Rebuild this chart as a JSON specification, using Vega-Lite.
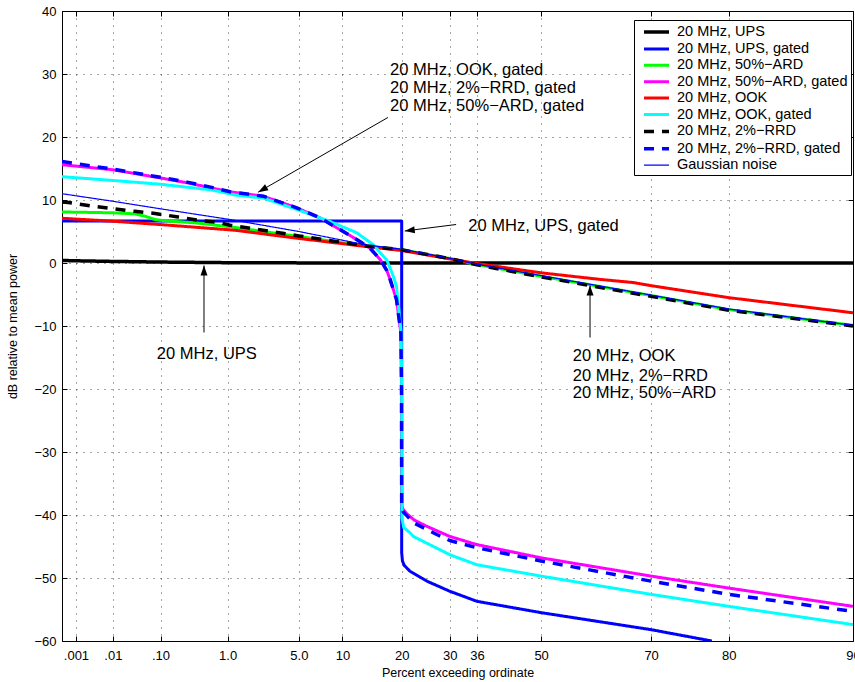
{
  "$schema": "https://vega.github.io/schema/vega-lite/v6.json",
  "width": 791,
  "height": 630,
  "autosize": {"type": "none"},
  "padding": {"left": 62, "top": 11, "right": 2, "bottom": 41},
  "background": "white",
  "config": {
    "font": "Liberation Sans",
    "view": {"stroke": "black", "strokeWidth": 1},
    "axis": {
      "labelFont": "Liberation Sans",
      "titleFont": "Liberation Sans",
      "labelColor": "black",
      "titleColor": "black",
      "titleFontWeight": "normal",
      "labelFontSize": 13,
      "titleFontSize": 12.5,
      "domain": false,
      "tickColor": "black",
      "tickSize": -5,
      "gridColor": "black",
      "gridDash": [1, 6],
      "gridOpacity": 0.7,
      "gridWidth": 1
    },
    "legend": {
      "orient": "none",
      "legendX": 572,
      "legendY": 9,
      "symbolType": "M-1.786,0L1.786,0",
      "symbolSize": 196,
      "labelFontSize": 14.5,
      "labelFont": "Liberation Sans",
      "labelColor": "black",
      "strokeColor": "black",
      "fillColor": "white",
      "padding": 3,
      "rowPadding": 1.4,
      "labelOffset": 11.5,
      "symbolOffset": 10.5,
      "labelLimit": 300
    }
  },
  "datasets": {
    "curves": [
      {"s": "20 MHz, UPS", "p": 0.000363, "db": 0.4},
      {"s": "20 MHz, UPS", "p": 0.001, "db": 0.35},
      {"s": "20 MHz, UPS", "p": 0.01, "db": 0.25},
      {"s": "20 MHz, UPS", "p": 0.1, "db": 0.15},
      {"s": "20 MHz, UPS", "p": 1, "db": 0.05},
      {"s": "20 MHz, UPS", "p": 10, "db": 0.0},
      {"s": "20 MHz, UPS", "p": 90, "db": 0.0},

      {"s": "20 MHz, UPS, gated", "p": 0.000363, "db": 6.65},
      {"s": "20 MHz, UPS, gated", "p": 20, "db": 6.65},
      {"s": "20 MHz, UPS, gated", "p": 20, "db": -46.0},
      {"s": "20 MHz, UPS, gated", "p": 20.15, "db": -47.3},
      {"s": "20 MHz, UPS, gated", "p": 20.5, "db": -48.0},
      {"s": "20 MHz, UPS, gated", "p": 21.6, "db": -48.9},
      {"s": "20 MHz, UPS, gated", "p": 25.1, "db": -50.5},
      {"s": "20 MHz, UPS, gated", "p": 30, "db": -52.1},
      {"s": "20 MHz, UPS, gated", "p": 36, "db": -53.7},
      {"s": "20 MHz, UPS, gated", "p": 50, "db": -55.5},
      {"s": "20 MHz, UPS, gated", "p": 70, "db": -58.2},
      {"s": "20 MHz, UPS, gated", "p": 78.1, "db": -60.0},

      {"s": "20 MHz, 50%−ARD", "p": 0.000363, "db": 8.1},
      {"s": "20 MHz, 50%−ARD", "p": 0.01, "db": 7.97},
      {"s": "20 MHz, 50%−ARD", "p": 0.0316, "db": 7.8},
      {"s": "20 MHz, 50%−ARD", "p": 0.0505, "db": 7.43},
      {"s": "20 MHz, 50%−ARD", "p": 0.079, "db": 6.9},
      {"s": "20 MHz, 50%−ARD", "p": 0.12, "db": 6.7},
      {"s": "20 MHz, 50%−ARD", "p": 0.366, "db": 6.38},
      {"s": "20 MHz, 50%−ARD", "p": 1.07, "db": 5.75},
      {"s": "20 MHz, 50%−ARD", "p": 5, "db": 4.2},
      {"s": "20 MHz, 50%−ARD", "p": 13.7, "db": 2.67},
      {"s": "20 MHz, 50%−ARD", "p": 20, "db": 2.1},
      {"s": "20 MHz, 50%−ARD", "p": 30, "db": 0.71},
      {"s": "20 MHz, 50%−ARD", "p": 36, "db": -0.24},
      {"s": "20 MHz, 50%−ARD", "p": 50, "db": -2.1},
      {"s": "20 MHz, 50%−ARD", "p": 70, "db": -5.16},
      {"s": "20 MHz, 50%−ARD", "p": 80, "db": -7.4},
      {"s": "20 MHz, 50%−ARD", "p": 90, "db": -9.9},

      {"s": "20 MHz, 50%−ARD, gated", "p": 0.000363, "db": 15.6},
      {"s": "20 MHz, 50%−ARD, gated", "p": 0.01, "db": 14.8},
      {"s": "20 MHz, 50%−ARD, gated", "p": 0.1, "db": 13.5},
      {"s": "20 MHz, 50%−ARD, gated", "p": 0.29, "db": 12.7},
      {"s": "20 MHz, 50%−ARD, gated", "p": 0.627, "db": 11.9},
      {"s": "20 MHz, 50%−ARD, gated", "p": 1.07, "db": 11.3},
      {"s": "20 MHz, 50%−ARD, gated", "p": 2.44, "db": 10.6},
      {"s": "20 MHz, 50%−ARD, gated", "p": 4.81, "db": 8.76},
      {"s": "20 MHz, 50%−ARD, gated", "p": 7.16, "db": 7.17},
      {"s": "20 MHz, 50%−ARD, gated", "p": 9.66, "db": 5.3},
      {"s": "20 MHz, 50%−ARD, gated", "p": 12.1, "db": 3.73},
      {"s": "20 MHz, 50%−ARD, gated", "p": 14.2, "db": 2.4},
      {"s": "20 MHz, 50%−ARD, gated", "p": 16.0, "db": 0.56},
      {"s": "20 MHz, 50%−ARD, gated", "p": 17.2, "db": -1.2},
      {"s": "20 MHz, 50%−ARD, gated", "p": 17.8, "db": -2.6},
      {"s": "20 MHz, 50%−ARD, gated", "p": 19.0, "db": -5.8},
      {"s": "20 MHz, 50%−ARD, gated", "p": 19.85, "db": -11.1},
      {"s": "20 MHz, 50%−ARD, gated", "p": 19.97, "db": -20},
      {"s": "20 MHz, 50%−ARD, gated", "p": 20.0, "db": -38.5},
      {"s": "20 MHz, 50%−ARD, gated", "p": 20.2, "db": -39.0},
      {"s": "20 MHz, 50%−ARD, gated", "p": 21.0, "db": -39.8},
      {"s": "20 MHz, 50%−ARD, gated", "p": 22.5, "db": -40.8},
      {"s": "20 MHz, 50%−ARD, gated", "p": 25.1, "db": -41.8},
      {"s": "20 MHz, 50%−ARD, gated", "p": 30, "db": -43.4},
      {"s": "20 MHz, 50%−ARD, gated", "p": 36, "db": -44.7},
      {"s": "20 MHz, 50%−ARD, gated", "p": 50, "db": -46.8},
      {"s": "20 MHz, 50%−ARD, gated", "p": 70, "db": -49.7},
      {"s": "20 MHz, 50%−ARD, gated", "p": 80, "db": -51.6},
      {"s": "20 MHz, 50%−ARD, gated", "p": 90, "db": -54.5},

      {"s": "20 MHz, OOK", "p": 0.000363, "db": 7.1},
      {"s": "20 MHz, OOK", "p": 0.01, "db": 6.63},
      {"s": "20 MHz, OOK", "p": 0.1, "db": 6.1},
      {"s": "20 MHz, OOK", "p": 1.22, "db": 5.2},
      {"s": "20 MHz, OOK", "p": 5, "db": 3.9},
      {"s": "20 MHz, OOK", "p": 13.7, "db": 2.6},
      {"s": "20 MHz, OOK", "p": 20, "db": 1.98},
      {"s": "20 MHz, OOK", "p": 30, "db": 0.66},
      {"s": "20 MHz, OOK", "p": 36, "db": -0.08},
      {"s": "20 MHz, OOK", "p": 50, "db": -1.56},
      {"s": "20 MHz, OOK", "p": 61.5, "db": -2.6},
      {"s": "20 MHz, OOK", "p": 67.2, "db": -3.1},
      {"s": "20 MHz, OOK", "p": 70, "db": -3.6},
      {"s": "20 MHz, OOK", "p": 80, "db": -5.5},
      {"s": "20 MHz, OOK", "p": 90, "db": -7.9},

      {"s": "20 MHz, OOK, gated", "p": 0.000363, "db": 13.7},
      {"s": "20 MHz, OOK, gated", "p": 0.01, "db": 13.1},
      {"s": "20 MHz, OOK, gated", "p": 0.1, "db": 12.5},
      {"s": "20 MHz, OOK, gated", "p": 0.627, "db": 11.6},
      {"s": "20 MHz, OOK, gated", "p": 1.22, "db": 10.8},
      {"s": "20 MHz, OOK, gated", "p": 2.44, "db": 10.3},
      {"s": "20 MHz, OOK, gated", "p": 4.81, "db": 8.5},
      {"s": "20 MHz, OOK, gated", "p": 8.35, "db": 6.6},
      {"s": "20 MHz, OOK, gated", "p": 12.1, "db": 4.8},
      {"s": "20 MHz, OOK, gated", "p": 14.8, "db": 2.9},
      {"s": "20 MHz, OOK, gated", "p": 17.2, "db": 0.45},
      {"s": "20 MHz, OOK, gated", "p": 18.4, "db": -2.1},
      {"s": "20 MHz, OOK, gated", "p": 19.0, "db": -3.7},
      {"s": "20 MHz, OOK, gated", "p": 19.9, "db": -11.0},
      {"s": "20 MHz, OOK, gated", "p": 20.0, "db": -20},
      {"s": "20 MHz, OOK, gated", "p": 20.05, "db": -40.5},
      {"s": "20 MHz, OOK, gated", "p": 20.4, "db": -42.0},
      {"s": "20 MHz, OOK, gated", "p": 21.6, "db": -42.8},
      {"s": "20 MHz, OOK, gated", "p": 22.3, "db": -43.4},
      {"s": "20 MHz, OOK, gated", "p": 30, "db": -46.3},
      {"s": "20 MHz, OOK, gated", "p": 36, "db": -47.9},
      {"s": "20 MHz, OOK, gated", "p": 50, "db": -49.7},
      {"s": "20 MHz, OOK, gated", "p": 70, "db": -52.6},
      {"s": "20 MHz, OOK, gated", "p": 80, "db": -54.5},
      {"s": "20 MHz, OOK, gated", "p": 90, "db": -57.4},

      {"s": "20 MHz, 2%−RRD", "p": 0.000363, "db": 9.7},
      {"s": "20 MHz, 2%−RRD", "p": 0.00058, "db": 9.6},
      {"s": "20 MHz, 2%−RRD", "p": 0.00284, "db": 9.05},
      {"s": "20 MHz, 2%−RRD", "p": 0.0102, "db": 8.6},
      {"s": "20 MHz, 2%−RRD", "p": 0.0316, "db": 8.2},
      {"s": "20 MHz, 2%−RRD", "p": 0.079, "db": 7.86},
      {"s": "20 MHz, 2%−RRD", "p": 0.202, "db": 7.3},
      {"s": "20 MHz, 2%−RRD", "p": 0.409, "db": 6.8},
      {"s": "20 MHz, 2%−RRD", "p": 0.802, "db": 6.4},
      {"s": "20 MHz, 2%−RRD", "p": 1.07, "db": 6.0},
      {"s": "20 MHz, 2%−RRD", "p": 5, "db": 4.3},
      {"s": "20 MHz, 2%−RRD", "p": 13.7, "db": 2.7},
      {"s": "20 MHz, 2%−RRD", "p": 20, "db": 2.1},
      {"s": "20 MHz, 2%−RRD", "p": 30, "db": 0.7},
      {"s": "20 MHz, 2%−RRD", "p": 36, "db": -0.3},
      {"s": "20 MHz, 2%−RRD", "p": 50, "db": -2.2},
      {"s": "20 MHz, 2%−RRD", "p": 70, "db": -5.3},
      {"s": "20 MHz, 2%−RRD", "p": 80, "db": -7.5},
      {"s": "20 MHz, 2%−RRD", "p": 90, "db": -10.0},

      {"s": "20 MHz, 2%−RRD, gated", "p": 0.000363, "db": 16.1},
      {"s": "20 MHz, 2%−RRD, gated", "p": 0.01, "db": 14.9},
      {"s": "20 MHz, 2%−RRD, gated", "p": 0.1, "db": 13.6},
      {"s": "20 MHz, 2%−RRD, gated", "p": 0.29, "db": 12.8},
      {"s": "20 MHz, 2%−RRD, gated", "p": 0.627, "db": 12.0},
      {"s": "20 MHz, 2%−RRD, gated", "p": 1.07, "db": 11.3},
      {"s": "20 MHz, 2%−RRD, gated", "p": 2.44, "db": 10.6},
      {"s": "20 MHz, 2%−RRD, gated", "p": 4.81, "db": 8.76},
      {"s": "20 MHz, 2%−RRD, gated", "p": 7.16, "db": 7.17},
      {"s": "20 MHz, 2%−RRD, gated", "p": 9.66, "db": 5.3},
      {"s": "20 MHz, 2%−RRD, gated", "p": 12.1, "db": 3.73},
      {"s": "20 MHz, 2%−RRD, gated", "p": 14.2, "db": 2.4},
      {"s": "20 MHz, 2%−RRD, gated", "p": 16.0, "db": 0.56},
      {"s": "20 MHz, 2%−RRD, gated", "p": 17.2, "db": -1.2},
      {"s": "20 MHz, 2%−RRD, gated", "p": 17.8, "db": -2.6},
      {"s": "20 MHz, 2%−RRD, gated", "p": 19.0, "db": -5.8},
      {"s": "20 MHz, 2%−RRD, gated", "p": 19.85, "db": -11.1},
      {"s": "20 MHz, 2%−RRD, gated", "p": 19.97, "db": -20},
      {"s": "20 MHz, 2%−RRD, gated", "p": 20.0, "db": -38.5},
      {"s": "20 MHz, 2%−RRD, gated", "p": 20.3, "db": -39.5},
      {"s": "20 MHz, 2%−RRD, gated", "p": 21.0, "db": -40.1},
      {"s": "20 MHz, 2%−RRD, gated", "p": 22.3, "db": -41.2},
      {"s": "20 MHz, 2%−RRD, gated", "p": 27.2, "db": -43.1},
      {"s": "20 MHz, 2%−RRD, gated", "p": 30, "db": -44.05},
      {"s": "20 MHz, 2%−RRD, gated", "p": 36, "db": -45.2},
      {"s": "20 MHz, 2%−RRD, gated", "p": 50, "db": -47.3},
      {"s": "20 MHz, 2%−RRD, gated", "p": 70, "db": -50.5},
      {"s": "20 MHz, 2%−RRD, gated", "p": 80, "db": -52.6},
      {"s": "20 MHz, 2%−RRD, gated", "p": 90, "db": -55.3},

      {"s": "Gaussian noise", "p": 0.000363, "db": 11.0},
      {"s": "Gaussian noise", "p": 0.01, "db": 9.8},
      {"s": "Gaussian noise", "p": 0.1, "db": 8.6},
      {"s": "Gaussian noise", "p": 1.07, "db": 6.9},
      {"s": "Gaussian noise", "p": 5, "db": 5.0},
      {"s": "Gaussian noise", "p": 13.7, "db": 2.85},
      {"s": "Gaussian noise", "p": 20, "db": 2.2},
      {"s": "Gaussian noise", "p": 30, "db": 0.75},
      {"s": "Gaussian noise", "p": 36, "db": -0.2},
      {"s": "Gaussian noise", "p": 50, "db": -2.0},
      {"s": "Gaussian noise", "p": 70, "db": -5.1},
      {"s": "Gaussian noise", "p": 80, "db": -7.3},
      {"s": "Gaussian noise", "p": 90, "db": -9.9}
    ],
    "arrows": [
      {"id": "a", "p": 17.4, "db": 23.1, "p2": 2.17, "db2": 11.24},
      {"id": "b", "p": 31.4, "db": 6.11, "p2": 20.6, "db2": 5.08},
      {"id": "c", "p": 0.493, "db": -11.03, "p2": 0.493, "db2": -0.4},
      {"id": "d", "p": 59.7, "db": -11.83, "p2": 59.7, "db2": -3.57}
    ],
    "notes": [
      {"t": "20 MHz, OOK, gated", "p": 17.8, "db": 30.7},
      {"t": "20 MHz, 2%−RRD, gated", "p": 17.8, "db": 27.85},
      {"t": "20 MHz, 50%−ARD, gated", "p": 17.8, "db": 25.0},
      {"t": "20 MHz, UPS, gated", "p": 34.1, "db": 5.84},
      {"t": "20 MHz, UPS", "p": 0.0857, "db": -14.37},
      {"t": "20 MHz, OOK", "p": 56.4, "db": -14.84},
      {"t": "20 MHz, 2%−RRD", "p": 56.4, "db": -17.86},
      {"t": "20 MHz, 50%−ARD", "p": 56.4, "db": -20.71}
    ]
  },
  "layer": [
    {
      "data": {"name": "curves"},
      "transform": [{"calculate": "-log(-log(datum.p / 100)) / LN10", "as": "xr"}],
      "mark": {"type": "line", "clip": true, "strokeJoin": "round"},
      "encoding": {
        "x": {
          "field": "xr",
          "type": "quantitative",
          "scale": {"domain": [-1.0978, 0.977326], "nice": false, "zero": false},
          "axis": {
            "orient": "bottom",
            "values": [-1.061185, -0.964276, -0.839336, -0.663246, -0.476503, -0.362216, -0.206674, -0.080617, -0.009301, 0.159151, 0.447731, 0.651406, 0.977326],
            "labelExpr": "datum.value < -1.0 ? '.001' : datum.value < -0.9 ? '.01' : datum.value < -0.8 ? '.10' : datum.value < -0.6 ? '1.0' : datum.value < -0.4 ? '5.0' : format(100 * exp(-pow(10, -datum.value)), '.0f')",
            "labelPadding": 13,
            "labelFlush": false,
            "labelOverlap": false,
            "grid": true,
            "title": "Percent exceeding ordinate",
            "titlePadding": 4
          }
        },
        "y": {
          "field": "db",
          "type": "quantitative",
          "scale": {"domain": [-60, 40], "nice": false, "zero": false},
          "axis": {
            "orient": "left",
            "values": [-60, -50, -40, -30, -20, -10, 0, 10, 20, 30, 40],
            "labelPadding": 11,
            "labelFlush": false,
            "labelOverlap": false,
            "grid": true,
            "title": "dB relative to mean power",
            "titlePadding": 14
          }
        },
        "color": {
          "field": "s",
          "type": "nominal",
          "scale": {
            "domain": ["20 MHz, UPS", "20 MHz, UPS, gated", "20 MHz, 50%−ARD", "20 MHz, 50%−ARD, gated", "20 MHz, OOK", "20 MHz, OOK, gated", "20 MHz, 2%−RRD", "20 MHz, 2%−RRD, gated", "Gaussian noise"],
            "range": ["#000000", "#0000ff", "#00ff00", "#ff00ff", "#ff0000", "#00ffff", "#000000", "#0000ff", "#0000ff"]
          },
          "legend": {"title": null}
        },
        "strokeDash": {
          "field": "s",
          "type": "nominal",
          "scale": {
            "domain": ["20 MHz, UPS", "20 MHz, UPS, gated", "20 MHz, 50%−ARD", "20 MHz, 50%−ARD, gated", "20 MHz, OOK", "20 MHz, OOK, gated", "20 MHz, 2%−RRD", "20 MHz, 2%−RRD, gated", "Gaussian noise"],
            "range": [[1, 0], [1, 0], [1, 0], [1, 0], [1, 0], [1, 0], [10, 8], [10, 8], [1, 0]]
          },
          "legend": {"title": null}
        },
        "strokeWidth": {
          "field": "s",
          "type": "nominal",
          "scale": {
            "type": "ordinal",
            "domain": ["20 MHz, UPS", "20 MHz, UPS, gated", "20 MHz, 50%−ARD", "20 MHz, 50%−ARD, gated", "20 MHz, OOK", "20 MHz, OOK, gated", "20 MHz, 2%−RRD", "20 MHz, 2%−RRD, gated", "Gaussian noise"],
            "range": [3.5, 3, 3, 3, 3, 3, 3.5, 3.5, 1.2]
          },
          "legend": {"title": null}
        },
        "order": {"value": null}
      }
    },
    {
      "data": {"name": "arrows"},
      "transform": [
        {"calculate": "-log(-log(datum.p / 100)) / LN10", "as": "xr"},
        {"calculate": "-log(-log(datum.p2 / 100)) / LN10", "as": "xr2"}
      ],
      "mark": {"type": "rule", "color": "black", "strokeWidth": 1},
      "encoding": {
        "x": {
          "field": "xr",
          "type": "quantitative",
          "scale": {"domain": [-1.0978, 0.977326], "nice": false, "zero": false},
          "axis": {
            "orient": "top",
            "values": [-1.061185, -0.964276, -0.839336, -0.663246, -0.476503, -0.362216, -0.206674, -0.080617, -0.009301, 0.159151, 0.447731, 0.651406, 0.977326],
            "labels": false, "grid": false, "title": null
          }
        },
        "y": {
          "field": "db",
          "type": "quantitative",
          "scale": {"domain": [-60, 40], "nice": false, "zero": false},
          "axis": {
            "orient": "right",
            "values": [-60, -50, -40, -30, -20, -10, 0, 10, 20, 30, 40],
            "labels": false, "grid": false, "title": null
          }
        },
        "x2": {"field": "xr2"},
        "y2": {"field": "db2"}
      }
    },
    {
      "data": {"name": "arrows"},
      "transform": [
        {"filter": "datum.id === 'a'"},
        {"calculate": "-log(-log(datum.p2 / 100)) / LN10", "as": "xr2"}
      ],
      "mark": {"type": "point", "shape": "M0,0L0.7,2L-0.7,2Z", "size": 100, "filled": true, "color": "black", "opacity": 1, "angle": 240},
      "encoding": {
        "x": {"field": "xr2", "type": "quantitative", "scale": {"domain": [-1.0978, 0.977326], "nice": false, "zero": false}, "axis": null},
        "y": {"field": "db2", "type": "quantitative", "scale": {"domain": [-60, 40], "nice": false, "zero": false}, "axis": null}
      }
    },
    {
      "data": {"name": "arrows"},
      "transform": [
        {"filter": "datum.id === 'b'"},
        {"calculate": "-log(-log(datum.p2 / 100)) / LN10", "as": "xr2"}
      ],
      "mark": {"type": "point", "shape": "M0,0L0.7,2L-0.7,2Z", "size": 100, "filled": true, "color": "black", "opacity": 1, "angle": 262.7},
      "encoding": {
        "x": {"field": "xr2", "type": "quantitative", "scale": {"domain": [-1.0978, 0.977326], "nice": false, "zero": false}, "axis": null},
        "y": {"field": "db2", "type": "quantitative", "scale": {"domain": [-60, 40], "nice": false, "zero": false}, "axis": null}
      }
    },
    {
      "data": {"name": "arrows"},
      "transform": [
        {"filter": "datum.id === 'c' || datum.id === 'd'"},
        {"calculate": "-log(-log(datum.p2 / 100)) / LN10", "as": "xr2"}
      ],
      "mark": {"type": "point", "shape": "M0,0L0.7,2L-0.7,2Z", "size": 100, "filled": true, "color": "black", "opacity": 1, "angle": 0},
      "encoding": {
        "x": {"field": "xr2", "type": "quantitative", "scale": {"domain": [-1.0978, 0.977326], "nice": false, "zero": false}, "axis": null},
        "y": {"field": "db2", "type": "quantitative", "scale": {"domain": [-60, 40], "nice": false, "zero": false}, "axis": null}
      }
    },
    {
      "data": {"name": "notes"},
      "transform": [{"calculate": "-log(-log(datum.p / 100)) / LN10", "as": "xr"}],
      "mark": {"type": "text", "align": "left", "baseline": "middle", "font": "Liberation Sans", "fontSize": 16.5, "color": "black"},
      "encoding": {
        "x": {"field": "xr", "type": "quantitative", "scale": {"domain": [-1.0978, 0.977326], "nice": false, "zero": false}, "axis": null},
        "y": {"field": "db", "type": "quantitative", "scale": {"domain": [-60, 40], "nice": false, "zero": false}, "axis": null},
        "text": {"field": "t"}
      }
    }
  ],
  "resolve": {"axis": {"x": "independent", "y": "independent"}}
}
